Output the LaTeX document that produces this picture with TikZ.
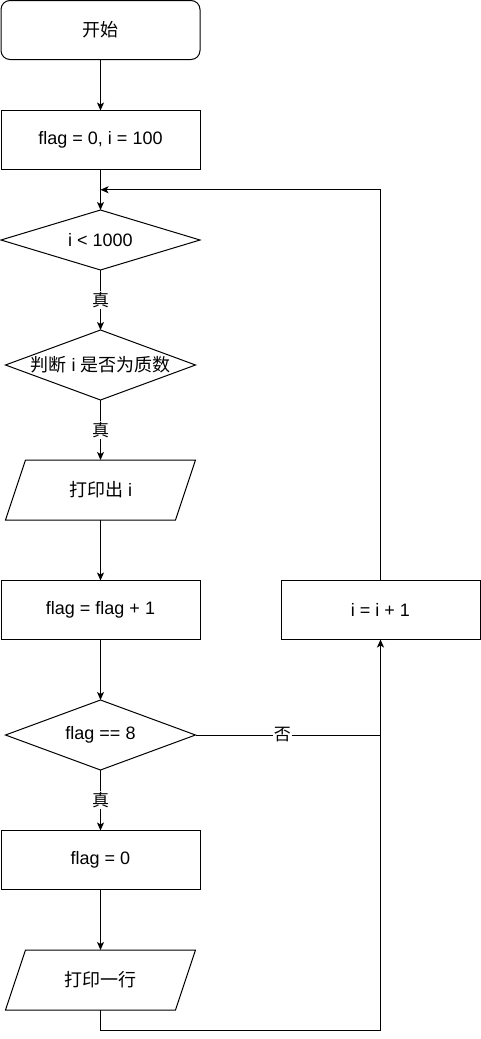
\documentclass[tikz,border=0pt]{standalone}
\usepackage{fontspec}
\setmainfont{Liberation Sans}
\newfontfamily\cjk{Noto Sans CJK SC}
\usetikzlibrary{arrows.meta,calc,shapes.geometric}

\begin{document}
\begin{tikzpicture}[x=1pt,y=-1pt,line width=1pt,
  every node/.style={outer sep=0pt,inner sep=0pt},
  txt/.style={font=\fontsize{18}{22}\selectfont},
  box/.style={draw,rectangle,minimum width=199pt,minimum height=59pt,txt},
  startbox/.style={box,rounded corners=9pt},
  decide/.style={draw,diamond,minimum width=#1,minimum height=60pt},
  iobox/.style={rectangle,minimum width=190pt,minimum height=60pt,txt},
  arr/.style={-{Stealth[length=8pt,width=7pt,inset=2pt]}},
  lab/.style={fill=white,inner sep=1pt,font=\fontsize{17}{19}\selectfont\cjk}]
\useasboundingbox (0,0) rectangle (481,1039);

% main column
\node[startbox] (start) at (100.5,30) {\cjk 开始};
\node[box] (init) at (100.5,140) {flag = 0, i = 100};
\node[decide=199pt] (d1) at (100.5,240) {};
\node[txt] (d1t) at (d1) {i < 1000};
\node[decide=190pt,minimum height=70pt] (d2) at (100.5,365) {};
\node[txt] (d2t) at (d2) {{\cjk 判断} i {\cjk 是否为质数}};
\node[iobox] (p1) at (100.5,490) {{\cjk 打印出} i};
\node[box] (f1) at (100.5,610) {flag = flag + 1};
\node[decide=190pt,minimum height=70pt] (d3) at (100.5,735) {};
\node[txt] (d3t) at (d3) {flag == 8};
\node[box] (f0) at (100.5,860) {flag = 0};
\node[iobox] (p2) at (100.5,980) {\cjk 打印一行};

% side box
\node[box] (inc) at (380.5,610) {i = i + 1};

% parallelogram outlines
\foreach \p in {p1,p2}
  \draw ($(\p.north west)+(20,0)$) -- (\p.north east)
        -- ($(\p.south east)-(20,0)$) -- (\p.south west) -- cycle;

% junction points
\coordinate (m) at ($(init.south)!0.5!(d1.north)$);
\coordinate (j) at (inc.south |- d3.east);

% connectors
\draw[arr] (start) -- (init);
\draw[arr] (init) -- (d1);
\draw[arr] (d1) -- node[lab]{真} (d2);
\draw[arr] (d2) -- node[lab]{真} (p1);
\draw[arr] (p1) -- (f1);
\draw[arr] (f1) -- (d3);
\draw[arr] (d3) -- node[lab]{真} (f0);
\draw[arr] (f0) -- (p2);
\draw (d3.east) -- node[lab,pos=0.47]{否} (j);
\draw[arr] (p2.south) -- ++(0,20) -| (inc.south);
\draw[arr] (inc.north) |- (m);
\end{tikzpicture}
\end{document}
